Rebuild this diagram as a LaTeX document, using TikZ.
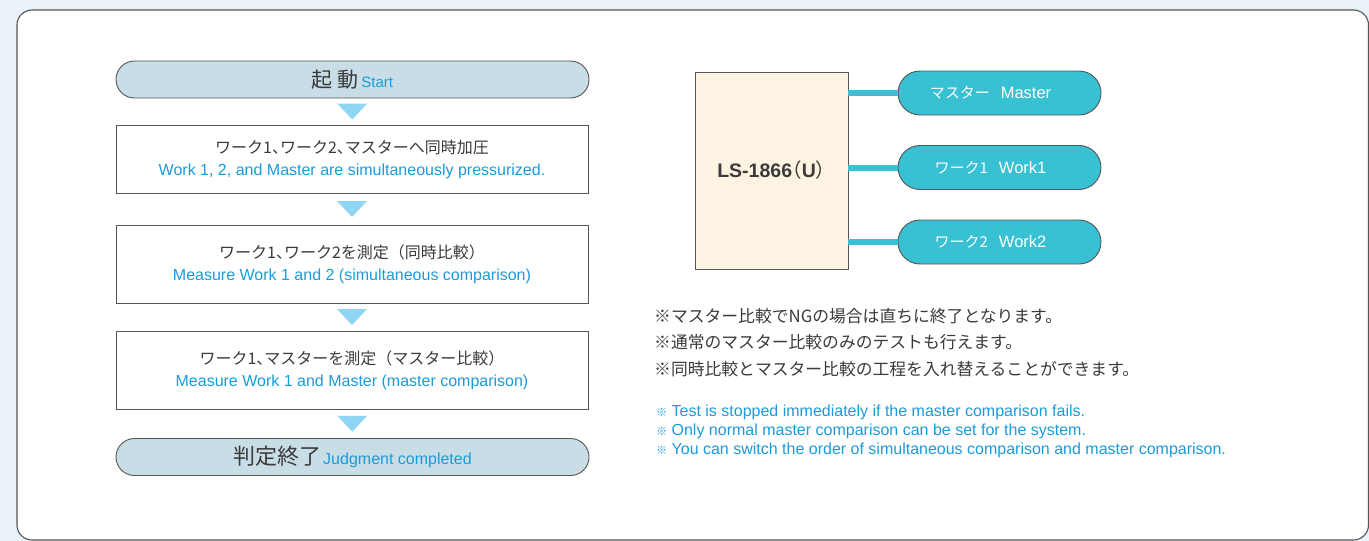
\documentclass[tikz,border=0pt]{standalone}
\usepackage{fontspec}
\setmainfont{Liberation Sans}
\newfontfamily\jp{Noto Sans CJK JP}
\newfontfamily\jpp[RawFeature=+halt]{Noto Sans CJK JP}
\usetikzlibrary{calc}
\definecolor{bgblue}{HTML}{E8F2F8}
\definecolor{framegray}{HTML}{555555}
\definecolor{pillfill}{HTML}{C8DDE6}
\definecolor{trifill}{HTML}{8FD5F5}
\definecolor{jpgray}{HTML}{3A3A3A}
\definecolor{enblue}{HTML}{1B9BDB}
\definecolor{lsfill}{HTML}{FDF3E2}
\definecolor{cyanfill}{HTML}{38C0D3}
\tikzset{
  pill/.style={draw=framegray, line width=0.9pt, fill=pillfill, rounded corners=18.5pt,
    minimum width=473pt, minimum height=37pt, inner sep=0pt},
  stepbox/.style={draw=framegray, line width=0.9pt, fill=white,
    minimum width=472pt, inner sep=0pt, align=center, font=\fontsize{16}{22}\selectfont},
  tri/.style={fill=trifill},
  lsbox/.style={draw=framegray, line width=0.9pt, fill=lsfill, minimum width=153pt,
    minimum height=197pt, inner sep=0pt},
  port/.style={draw=framegray, line width=0.9pt, fill=cyanfill, rounded corners=22pt,
    minimum width=203pt, minimum height=44pt, inner sep=0pt, text=white},
  conn/.style={draw=cyanfill, line width=6pt},
}
\newcommand{\jpL}[1]{{\jp\color{jpgray}#1}}
\newcommand{\enL}[1]{{\color{enblue}#1}}
\newcommand{\tc}{{\jpp 、}}
\newcommand{\kome}{{\jp\fontsize{11}{19}\selectfont ※}}
\newcommand{\portlabel}[2]{{\jp\fontsize{15}{18}\selectfont #1}\hspace{11pt}{\fontsize{16.5}{18}\selectfont #2}\rule{18pt}{0pt}}
\begin{document}
\begin{tikzpicture}[x=1pt,y=-1pt]
\useasboundingbox (0,0) rectangle (1369,541);
\fill[bgblue] (0,0) rectangle (1369,541);
\draw[framegray, line width=1.1pt, fill=white, rounded corners=15pt] (17,10) rectangle (1368.5,540);

% flow
\node[pill] (start) at (352.5,79.5) {{\jp\fontsize{21}{24}\selectfont\color{jpgray}起 動} {\fontsize{15}{18}\selectfont\color{enblue}Start}};
\node[stepbox, minimum height=68pt] (b1) at (352,159) {\jpL{ワーク1\tc ワーク2\tc マスターへ同時加圧}\\\enL{Work 1, 2, and Master are simultaneously pressurized.}};
\node[stepbox, minimum height=78pt] (b2) at (352,264) {\jpL{ワーク1\tc ワーク2を測定（同時比較）}\\\enL{Measure Work 1 and 2 (simultaneous comparison)}};
\node[stepbox, minimum height=78pt] (b3) at (352,370) {\jpL{ワーク1\tc マスターを測定（マスター比較）}\\\enL{Measure Work 1 and Master (master comparison)}};
\node[pill] (end) at (352.5,457) {{\jp\fontsize{22}{24}\selectfont\color{jpgray}判定終了}\hspace{2pt}{\fontsize{16}{18}\selectfont\color{enblue}Judgment completed}};

\foreach \a/\b/\n in {start/b1/m1, b1/b2/m2, b2/b3/m3, b3/end/m4}{
  \path (\a.south) -- (\b.north) coordinate[midway] (\n);
  \fill[tri] ($(\n)+(-15,-8)$) -- ($(\n)+(15,-8)$) -- ($(\n)+(0,8)$) -- cycle;
}

% device
\node[lsbox] (ls) at (771.5,170.5) {\fontsize{19.5}{22}\selectfont\bfseries\color{jpgray}LS-1866{\jpp\mdseries（}U{\jpp\mdseries）}};
\node[port] (master) at (999.5,93) {\portlabel{マスター}{Master}};
\node[port] (work1) at (999.5,167.5) {\portlabel{ワーク1}{Work1}};
\node[port] (work2) at (999.5,242) {\portlabel{ワーク2}{Work2}};
\foreach \p in {master, work1, work2}{
  \draw[conn] (ls.east |- \p.west) -- (\p.west);
}

% notes
\node[anchor=north west, align=left, inner sep=0pt, text=jpgray, font=\jp\fontsize{16.8}{26.5}\selectfont] (notesjp) at (654,308) {※マスター比較でNGの場合は直ちに終了となります。\\ ※通常のマスター比較のみのテストも行えます。\\ ※同時比較とマスター比較の工程を入れ替えることができます。};
\node[anchor=north west, align=left, inner sep=0pt, text=enblue, font=\fontsize{16}{19}\selectfont] (notesen) at (656,405) {\kome\ Test is stopped immediately if the master comparison fails.\\ \kome\ Only normal master comparison can be set for the system.\\ \kome\ You can switch the order of simultaneous comparison and master comparison.};
\end{tikzpicture}
\end{document}
